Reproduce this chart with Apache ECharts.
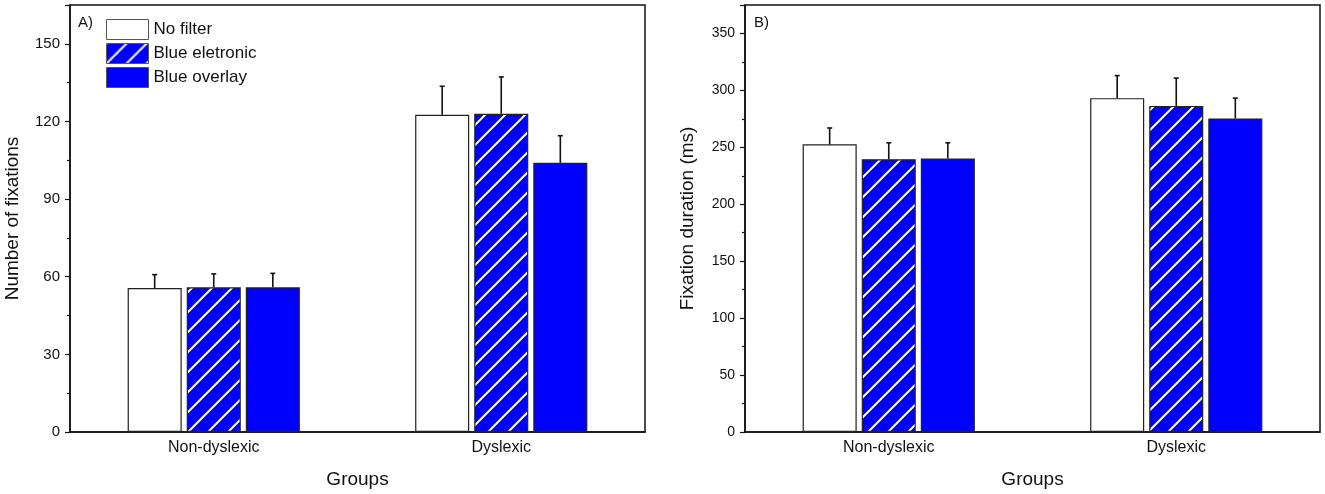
<!DOCTYPE html>
<html>
<head>
<meta charset="utf-8">
<script src="https://cdn.jsdelivr.net/npm/echarts@6/dist/echarts.min.js"></script>
<style>
  html, body { margin: 0; padding: 0; background: #fff; }
  #chart { width: 1325px; height: 494px; }
</style>
</head>
<body>
<div id="chart"></div>
<script>
// data
var groups = ['Non-dyslexic', 'Dyslexic'];
var seriesNames = ['No filter', 'Blue eletronic', 'Blue overlay'];

// A) number of fixations (mean, top of error bar)
var fixNoFilter = [55.6, 122.6];
var fixBlueElec = [55.9, 123.0];
var fixBlueOver = [55.9, 104.0];
var fixNoFilterTop = [60.8, 133.6];
var fixBlueElecTop = [61.1, 137.2];
var fixBlueOverTop = [61.3, 114.5];

// B) fixation duration in ms (mean, top of error bar)
var durNoFilter = [252.6, 293.2];
var durBlueElec = [239.6, 286.4];
var durBlueOver = [240.2, 275.4];
var durNoFilterTop = [267.0, 313.0];
var durBlueElecTop = [254.0, 310.8];
var durBlueOverTop = [254.0, 293.2];

var BAR_W = 0.188;   // of category band
var BAR_GAP = 0.093; // of bar width
var FONT = 'Liberation Sans, Arial, sans-serif';

// white diagonal hatch on blue
function hatch() {
    var c = document.createElement('canvas');
    c.width = 20; c.height = 20;
    var ctx = c.getContext('2d');
    ctx.fillStyle = '#0000ff';
    ctx.fillRect(0, 0, 20, 20);
    ctx.strokeStyle = '#ffffff';
    ctx.lineWidth = 2;
    ctx.beginPath();
    ctx.moveTo(-2, 22); ctx.lineTo(22, -2);
    ctx.moveTo(-12, 12); ctx.lineTo(12, -12);
    ctx.moveTo(8, 32); ctx.lineTo(32, 8);
    ctx.stroke();
    return c;
}
var hatchFill = { image: hatch(), repeat: 'repeat' };
var fills = ['#ffffff', hatchFill, '#0000ff'];

function barSeries(name, k, data, axis) {
    return {
        name: name,
        type: 'bar',
        xAxisIndex: axis,
        yAxisIndex: axis,
        barWidth: (BAR_W * 100) + '%',
        barGap: (BAR_GAP * 100) + '%',
        itemStyle: { color: fills[k], borderColor: '#222', borderWidth: 1.2 },
        emphasis: { disabled: true },
        data: data,
        z: 2
    };
}

function errSeries(k, means, tops, axis) {
    var d = [];
    for (var i = 0; i < means.length; i++) d.push([i, means[i], tops[i]]);
    return {
        type: 'custom',
        xAxisIndex: axis,
        yAxisIndex: axis,
        silent: true,
        z: 3,
        renderItem: function (params, api) {
            var band = api.size([1, 0])[0];
            var w = band * BAR_W;
            var off = (k - 1) * w * (1 + BAR_GAP);
            var p0 = api.coord([api.value(0), api.value(1)]);
            var p1 = api.coord([api.value(0), api.value(2)]);
            var x = p0[0] + off;
            var st = { stroke: '#111', lineWidth: 1.6 };
            return {
                type: 'group',
                children: [
                    { type: 'line', shape: { x1: x, y1: p0[1], x2: x, y2: p1[1] }, style: st },
                    { type: 'line', shape: { x1: x - 2.5, y1: p1[1], x2: x + 2.5, y2: p1[1] }, style: st }
                ]
            };
        },
        data: d
    };
}

function xAx(i) {
    return {
        type: 'category', gridIndex: i, data: groups,
        name: 'Groups', nameLocation: 'middle', nameGap: 38,
        nameTextStyle: { fontFamily: FONT, color: '#111', fontSize: 19 },
        axisLine: { lineStyle: { color: '#111', width: 1.5 } },
        axisTick: { show: false },
        axisLabel: { fontFamily: FONT, color: '#111', fontSize: 16, margin: 8 }
    };
}

function yAx(i, name, max, interval, labelSize) {
    return {
        type: 'value', gridIndex: i, min: 0, max: max, interval: interval,
        name: name, nameLocation: 'middle', nameGap: 48,
        nameTextStyle: { fontFamily: FONT, color: '#111', fontSize: 19 },
        axisLine: { show: true, lineStyle: { color: '#111', width: 1.5 } },
        axisTick: { show: true, length: 5, lineStyle: { color: '#111', width: 1.2 } },
        minorTick: { show: true, splitNumber: 2, length: 3, lineStyle: { color: '#111', width: 1.2 } },
        splitLine: { show: false },
        axisLabel: { fontFamily: FONT, color: '#111', fontSize: labelSize, margin: 10, showMaxLabel: false }
    };
}

var chart = echarts.init(document.getElementById('chart'), null, { renderer: 'canvas' });

var option = {
    backgroundColor: '#fff',
    animation: false,
    grid: [
        { left: 70, top: 5, width: 575, height: 427, outerBoundsMode: 'none', show: true, borderColor: '#111', borderWidth: 1.5, backgroundColor: 'transparent' },
        { left: 745, top: 5, width: 575, height: 427, outerBoundsMode: 'none', show: true, borderColor: '#111', borderWidth: 1.5, backgroundColor: 'transparent' }
    ],
    legend: {
        left: 106, top: 19, orient: 'vertical', padding: 0,
        itemWidth: 42, itemHeight: 20, itemGap: 3,
        icon: 'rect',
        selectedMode: false,
        data: seriesNames,
        itemStyle: { borderColor: '#555', borderWidth: 1 },
        textStyle: { fontFamily: FONT, color: '#111', fontSize: 17 }
    },
    graphic: [
        { type: 'text', left: 78, top: 15, style: { text: 'A)', font: '15px ' + FONT, fill: '#111' } },
        { type: 'text', left: 754, top: 15, style: { text: 'B)', font: '15px ' + FONT, fill: '#111' } }
    ],
    xAxis: [xAx(0), xAx(1)],
    yAxis: [
        yAx(0, 'Number of fixations', 165, 30, 15),
        yAx(1, 'Fixation duration (ms)', 375, 50, 14)
    ],
    series: [
        barSeries(seriesNames[0], 0, fixNoFilter, 0),
        barSeries(seriesNames[1], 1, fixBlueElec, 0),
        barSeries(seriesNames[2], 2, fixBlueOver, 0),
        barSeries(seriesNames[0], 0, durNoFilter, 1),
        barSeries(seriesNames[1], 1, durBlueElec, 1),
        barSeries(seriesNames[2], 2, durBlueOver, 1),
        errSeries(0, fixNoFilter, fixNoFilterTop, 0),
        errSeries(1, fixBlueElec, fixBlueElecTop, 0),
        errSeries(2, fixBlueOver, fixBlueOverTop, 0),
        errSeries(0, durNoFilter, durNoFilterTop, 1),
        errSeries(1, durBlueElec, durBlueElecTop, 1),
        errSeries(2, durBlueOver, durBlueOverTop, 1)
    ]
};

chart.setOption(option);
</script>
</body>
</html>
